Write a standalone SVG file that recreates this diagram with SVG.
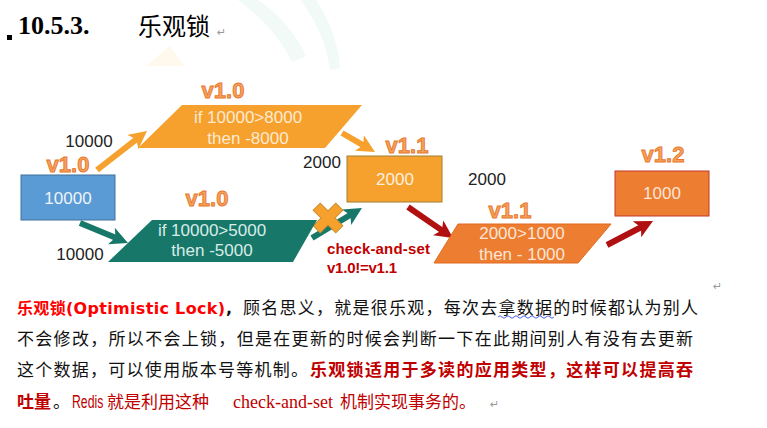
<svg xmlns="http://www.w3.org/2000/svg" width="767" height="428" viewBox="0 0 767 428">
<style>
.lbl{font-family:"Liberation Sans",Arial,sans-serif;font-size:17px;fill:#222;text-anchor:middle}
.in{font-family:"Liberation Sans",Arial,sans-serif;font-size:17px;text-anchor:middle}
.ver{font-family:"Liberation Sans",Arial,sans-serif;font-size:22px;font-weight:bold;fill:#f5a35c;stroke:#e8772e;stroke-width:0.9;text-anchor:middle}
.body{font-family:"Noto Sans CJK SC",sans-serif;font-size:17px;fill:#111}
.rb{font-family:"DejaVu Sans","Noto Sans CJK SC",sans-serif;font-size:16px;font-weight:bold;fill:#ff0000}
.ret{font-family:"DejaVu Sans",sans-serif;font-size:11px;fill:#999}
.arr{fill:none;stroke-width:6}
</style>
<defs>
<marker id="hO" viewBox="0 0 10 10" refX="4" refY="5" markerWidth="3" markerHeight="3" orient="auto" markerUnits="strokeWidth"><path d="M0,0 L10,5 L0,10 L2.5,5 Z" fill="#f6a12e"/></marker>
<marker id="hG" viewBox="0 0 10 10" refX="4" refY="5" markerWidth="3" markerHeight="3" orient="auto" markerUnits="strokeWidth"><path d="M0,0 L10,5 L0,10 L2.5,5 Z" fill="#17786a"/></marker>
<marker id="hR" viewBox="0 0 10 10" refX="4" refY="5" markerWidth="3" markerHeight="3" orient="auto" markerUnits="strokeWidth"><path d="M0,0 L10,5 L0,10 L2.5,5 Z" fill="#b01010"/></marker>
</defs>
<rect width="767" height="428" fill="#ffffff"/>
<!-- faint watermark -->
<g opacity="0.45">
<path d="M238,0 C262,18 280,38 292,62 L306,56 C294,30 276,12 258,0 Z" fill="#e4f4f1"/>
<path d="M300,0 C316,20 326,42 330,70 L340,68 C338,40 328,18 316,0 Z" fill="#e4f4f1"/>
<path d="M146,66 L170,46 L184,66 Z" fill="#fdf3d6"/>
</g>
<!-- title -->
<g id="title">
<rect x="7" y="35" width="5" height="5" fill="#000"/>
<text x="18" y="34" font-family="Liberation Serif,serif" font-size="26" font-weight="bold" fill="#000">10.5.3.</text>
<text x="138" y="35" font-family="Noto Sans CJK SC,sans-serif" font-size="24" fill="#000">乐观锁</text>
<text x="217" y="36" class="ret">↵</text>
</g>
<!-- connectors -->
<g id="connectors">
<line class="arr" x1="97" y1="170" x2="138.5" y2="137.6" stroke="#f6a12e" marker-end="url(#hO)"/>
<line class="arr" x1="342" y1="133" x2="365.6" y2="146.6" stroke="#f6a12e" marker-end="url(#hO)"/>
<line class="arr" x1="80" y1="223" x2="118" y2="238.8" stroke="#17786a" marker-end="url(#hG)"/>
<line class="arr" x1="312" y1="238" x2="352.7" y2="213.5" stroke="#17786a" marker-end="url(#hG)"/>
<line class="arr" x1="408" y1="207" x2="444.1" y2="231.9" stroke="#b01010" marker-end="url(#hR)"/>
<line class="arr" x1="607" y1="245" x2="643.4" y2="226" stroke="#b01010" marker-end="url(#hR)"/>
<g transform="translate(328,218) rotate(45)"><path d="M-5,-16 H5 V-5 H16 V5 H5 V16 H-5 V5 H-16 V-5 H-5 Z" fill="#f6a12e" stroke="#c8902a" stroke-width="1"/></g>
</g>
<!-- nodes -->
<g id="n-start">
<rect x="21" y="175" width="94" height="45" fill="#5b9bd5" stroke="#41719c" stroke-width="1"/>
<text class="in" x="68" y="204" fill="#eef3fa" font-size="16">10000</text>
<text class="lbl" x="89" y="147">10000</text>
<text class="ver" x="68" y="172">v1.0</text>
<text class="lbl" x="80" y="260">10000</text>
</g>
<g id="n-top">
<polygon points="182,105 362,105 325,148 138,148" fill="#f6a12e"/>
<text class="ver" x="223" y="98">v1.0</text>
<text class="in" x="248" y="123" fill="#fde9d0">if 10000&gt;8000</text>
<text class="in" x="248" y="144" fill="#fde9d0">then -8000</text>
</g>
<g id="n-bottom">
<polygon points="152,220 317,220 293,262 108,262" fill="#17786a"/>
<text class="ver" x="207" y="206">v1.0</text>
<text class="in" x="212" y="236" fill="#d9ece8">if 10000&gt;5000</text>
<text class="in" x="212" y="256" fill="#d9ece8">then -5000</text>
</g>
<g id="n-2000">
<rect x="347" y="156" width="95" height="46" fill="#f6a12e" stroke="#a08030" stroke-width="1"/>
<text class="in" x="395" y="185" fill="#fdf0de" font-size="16">2000</text>
<text class="ver" x="407" y="153">v1.1</text>
<text class="lbl" x="322" y="168">2000</text>
<text class="lbl" x="487" y="185">2000</text>
</g>
<g id="n-cas">
<text x="327" y="254" font-family="Liberation Sans,Arial,sans-serif" font-size="15" font-weight="bold" fill="#c00000" textLength="103">check-and-set</text>
<text x="327" y="273" font-family="Liberation Sans,Arial,sans-serif" font-size="15" font-weight="bold" fill="#c00000" textLength="70">v1.0!=v1.1</text>
</g>
<g id="n-sub">
<polygon points="458,224 611,224 578,263 434,263" fill="#ed7d31" stroke="#e06a20" stroke-width="1"/>
<text class="ver" x="510" y="218">v1.1</text>
<text class="in" x="522" y="239" fill="#fbe5d6">2000&gt;1000</text>
<text class="in" x="522" y="260" fill="#fbe5d6">then - 1000</text>
</g>
<g id="n-1000">
<rect x="615" y="171" width="94" height="45" fill="#ed7d31" stroke="#c0392b" stroke-width="1"/>
<text class="in" x="662" y="199" fill="#fbe5d6" font-size="16">1000</text>
<text class="ver" x="663" y="162">v1.2</text>
</g>
<!-- paragraph -->
<g id="paragraph">
<text x="713" y="290" class="ret">↵</text>
<text x="17" y="314" class="rb" textLength="208">乐观锁(Optimistic Lock)</text>
<text x="226" y="314" font-family="DejaVu Sans,sans-serif" font-size="16" font-weight="bold" fill="#111">,</text>
<text x="243" y="314" class="body" textLength="455">顾名思义，就是很乐观，每次去拿数据的时候都认为别人</text>
<path d="M498,317 q2,-2.5 4,0 t4,0 t4,0 t4,0 t4,0 t4,0 t4,0 t4,0 t4,0 t4,0 t4,0 t4,0 t4,0 t4,0" fill="none" stroke="#4050e0" stroke-width="0.9"/>
<text x="17" y="345" class="body" textLength="676">不会修改，所以不会上锁，但是在更新的时候会判断一下在此期间别人有没有去更新</text>
<text x="17" y="376" class="body" textLength="291">这个数据，可以使用版本号等机制。</text>
<text x="310" y="376" class="body" font-weight="bold" textLength="383" style="fill:#c00000">乐观锁适用于多读的应用类型，这样可以提高吞</text>
<text y="408" class="body" style="fill:#c00000"><tspan x="17" font-weight="bold">吐量</tspan><tspan x="53" style="fill:#111">。</tspan></text>
<text transform="translate(72,408) scale(0.68,1)" font-family="Liberation Sans,Arial,sans-serif" font-size="18" fill="#c00000">Redis</text>
<text y="408" class="body" style="fill:#c00000"><tspan x="107">就是利用这种</tspan><tspan x="233" font-family="Liberation Serif,serif" font-size="18">check-and-set</tspan><tspan x="340">机制实现事务的。</tspan></text>
<text x="490" y="408" class="ret">↵</text>
</g>
</svg>
